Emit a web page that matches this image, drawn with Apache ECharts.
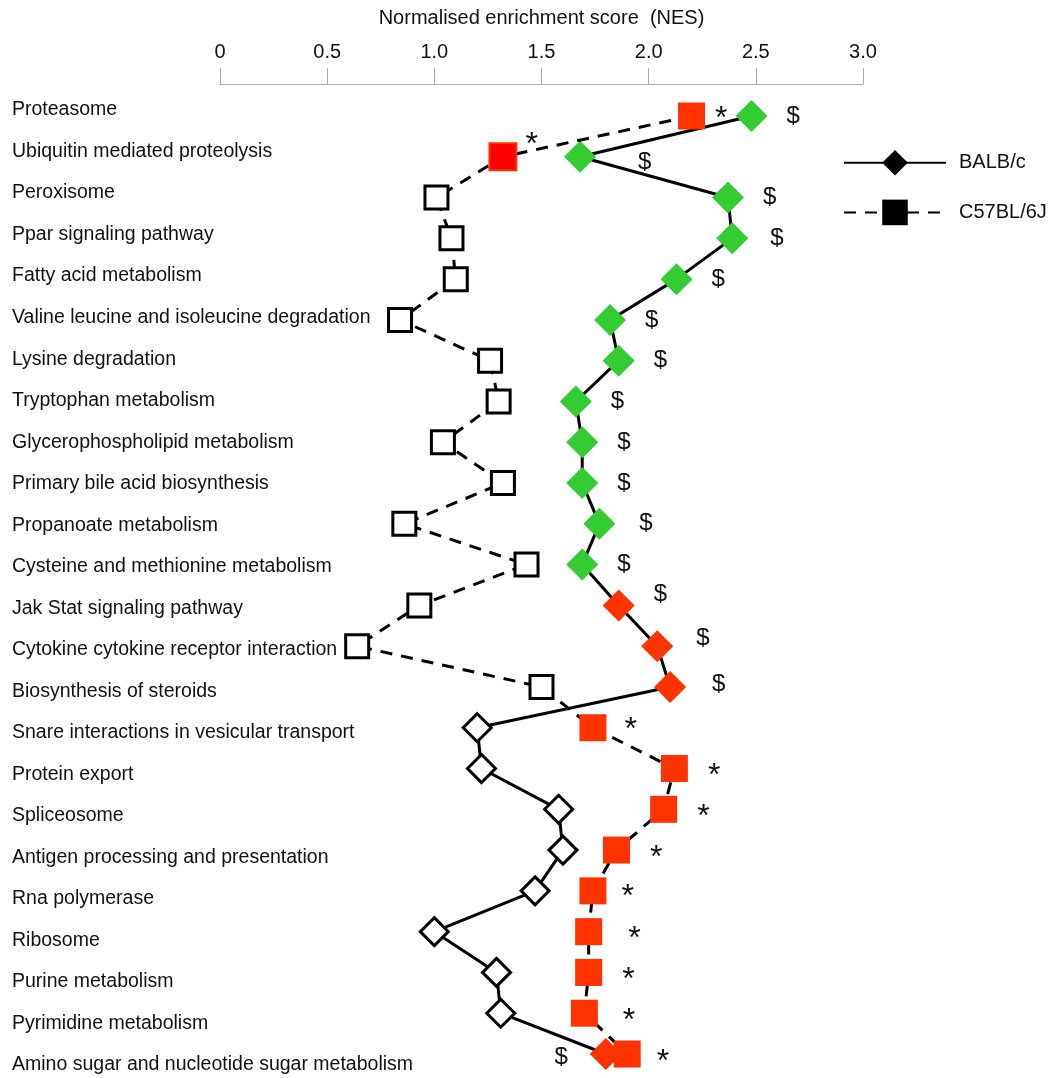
<!DOCTYPE html>
<html><head><meta charset="utf-8">
<script src="https://cdn.jsdelivr.net/npm/echarts@6/dist/echarts.min.js"></script>
<style>html,body{margin:0;padding:0;background:#fff}#c{width:1062px;height:1078px}</style>
</head><body><div id="c"></div>
<script>
const categories = [
  'Proteasome','Ubiquitin mediated proteolysis','Peroxisome','Ppar signaling pathway',
  'Fatty acid metabolism','Valine leucine and isoleucine degradation','Lysine degradation',
  'Tryptophan metabolism','Glycerophospholipid metabolism','Primary bile acid biosynthesis',
  'Propanoate metabolism','Cysteine and methionine metabolism','Jak Stat signaling pathway',
  'Cytokine cytokine receptor interaction','Biosynthesis of steroids',
  'Snare interactions in vesicular transport','Protein export','Spliceosome',
  'Antigen processing and presentation','Rna polymerase','Ribosome','Purine metabolism',
  'Pyrimidine metabolism','Amino sugar and nucleotide sugar metabolism'
];
const balbValues = [2.48,1.68,2.37,2.39,2.13,1.82,1.86,1.66,1.69,1.69,1.77,1.69,1.86,2.04,2.10,
                    1.20,1.22,1.58,1.60,1.47,1.00,1.29,1.31,1.80];
const c57Values  = [2.20,1.32,1.01,1.08,1.10,0.84,1.26,1.30,1.04,1.32,0.86,1.43,0.93,0.64,1.50,
                    1.74,2.12,2.07,1.85,1.74,1.72,1.72,1.70,1.90];
const balbKind = ['green','green','green','green','green','green','green','green','green','green','green','green',
                  'red','red','red','open','open','open','open','open','open','open','open','red'];
const c57Kind  = ['red','red2','open','open','open','open','open','open','open','open','open','open','open','open','open',
                  'red','red','red','red','red','red','red','red','red'];
const balbMarks = ['$','$','$','$','$','$','$','$','$','$','$','$','$','$','$','','','','','','','','','$'];
const c57Marks  = ['*','*','','','','','','','','','','','','','','*','*','*','*','*','*','*','*','*'];
const xTicks = ['0','0.5','1.0','1.5','2.0','2.5','3.0'];

// label nudges (style only)
const balbNudge = {1:[23,6], 3:[3,0], 10:[5,0], 12:[0,-11], 13:[4,-8], 14:[7,-3]};
const c57Nudge  = {0:[-10,-5], 1:[-12,-20], 15:[-2,-6], 19:[-5,-2], 20:[6,0], 22:[5,0], 23:[-4,0]};

const FONT = '"Liberation Sans", Arial, sans-serif';
const fills = {green:'#33CC33', red:'#FF3300', red2:'#FF0000', open:'#FFFFFF'};

function mkItem(v, i, kind, symbol, fullSize, openSize, nudge, starDy) {
  const open = kind === 'open';
  const it = {
    value: [v, i],
    symbol: symbol,
    symbolSize: open ? openSize : fullSize,
    itemStyle: {
      color: fills[kind],
      borderColor: open ? '#000' : (kind === 'red2' ? '#FF3300' : fills[kind]),
      borderWidth: open ? 3 : (kind === 'red2' ? 2 : 0)
    }
  };
  const n = nudge[i] || [0, 0];
  it.label = {offset: [n[0], n[1] + starDy]};
  return it;
}

const balbData = balbValues.map((v, i) => mkItem(v, i, balbKind[i], 'diamond', 32, 28, balbNudge, 0));
balbData[23].label = {position: 'left', distance: 22, offset: [0, 3]};
const c57Data = c57Values.map((v, i) => mkItem(v, i, c57Kind[i], 'rect', 27, 23, c57Nudge, 8));

const chart = echarts.init(document.getElementById('c'), null, {renderer: 'canvas'});
chart.setOption({
  animation: false,
  backgroundColor: '#fff',
  grid: [
    {left: 220, right: 199, top: 116, bottom: 24, containLabel: false},
    {left: 220, right: 199, top: 110, bottom: 13, containLabel: false}
  ],
  xAxis: [
    {
      type: 'value', gridIndex: 0, min: 0, max: 3, interval: 0.5, position: 'top', offset: 32,
      name: 'Normalised enrichment score  (NES)', nameLocation: 'middle', nameGap: 56,
      nameTextStyle: {fontSize: 20, color: '#111', fontFamily: FONT},
      axisLine: {show: true, lineStyle: {color: '#aaa', width: 1}},
      axisTick: {show: true, length: 16, lineStyle: {color: '#aaa', width: 1}},
      axisLabel: {margin: 22, fontSize: 20, color: '#111', fontFamily: FONT,
                  formatter: (v) => xTicks[Math.round(v / 0.5)]},
      splitLine: {show: false}
    },
    {type: 'value', gridIndex: 1, min: 0, max: 3, show: false}
  ],
  yAxis: [
    {type: 'category', gridIndex: 0, data: categories, inverse: true, boundaryGap: false, show: false},
    {
      type: 'category', gridIndex: 1, data: categories, inverse: true, boundaryGap: false,
      axisLine: {show: false}, axisTick: {show: false}, splitLine: {show: false},
      axisLabel: {align: 'left', margin: 208, fontSize: 19.5, color: '#111', fontFamily: FONT, interval: 0}
    }
  ],
  legend: {
    orient: 'vertical', left: 838, top: 145, itemWidth: 102, itemHeight: 32, itemGap: 24,
    data: ['BALB/c', 'C57BL/6J'], selectedMode: false,
    itemStyle: {color: '#000', borderWidth: 0},
    textStyle: {fontSize: 20, color: '#111', fontFamily: FONT, padding: [0, 0, 0, 8]}
  },
  series: [
    {
      name: 'BALB/c', type: 'line', xAxisIndex: 0, yAxisIndex: 0, clip: false,
      symbol: 'diamond', symbolSize: 32,
      itemStyle: {color: '#000', borderWidth: 0},
      lineStyle: {color: '#000', width: 3, type: 'solid'},
      label: {show: true, position: 'right', distance: 19, fontSize: 24, color: '#111', fontFamily: FONT,
              formatter: (p) => balbMarks[p.dataIndex]},
      data: balbData, z: 3
    },
    {
      name: 'C57BL/6J', type: 'line', xAxisIndex: 0, yAxisIndex: 0, clip: false,
      symbol: 'rect', symbolSize: 27,
      itemStyle: {color: '#000', borderWidth: 0},
      lineStyle: {color: '#000', width: 3, type: [12, 9]},
      label: {show: true, position: 'right', distance: 20, fontSize: 32, color: '#111', fontFamily: FONT,
              formatter: (p) => c57Marks[p.dataIndex]},
      data: c57Data, z: 4
    }
  ]
});
</script>
</body></html>
